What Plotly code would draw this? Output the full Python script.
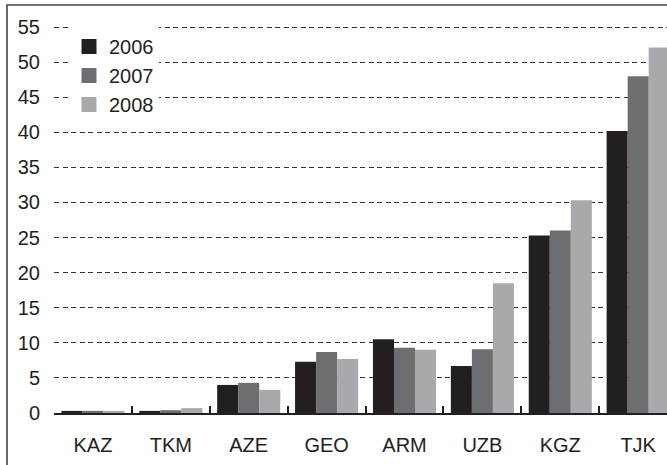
import plotly.graph_objects as go

categories = ["KAZ", "TKM", "AZE", "GEO", "ARM", "UZB", "KGZ", "TJK"]
v2006 = [0.3, 0.3, 4.0, 7.3, 10.5, 6.7, 25.3, 40.2]
v2007 = [0.3, 0.4, 4.3, 8.7, 9.3, 9.1, 26.0, 48.0]
v2008 = [0.3, 0.7, 3.3, 7.7, 9.0, 18.5, 30.3, 52.1]
years = ["2006", "2007", "2008"]
colors = ["#231f20", "#6d6e71", "#a7a9ac"]

W, H = 667, 465
L, T, B = 54, 13, 52
pw = W - L
ph = H - T - B

fig = go.Figure()
for name, vals, c in zip(years, [v2006, v2007, v2008], colors):
    fig.add_trace(go.Bar(x=categories, y=vals, name=name, legendgroup=name, showlegend=False,
                         marker=dict(color=c, line=dict(width=0))))
# legend entries with larger square swatches
for name, c in zip(years, colors):
    fig.add_trace(go.Scatter(x=[None], y=[None], mode="markers", name=name, legendgroup=name,
                             marker=dict(symbol="square", size=15, color=c, line=dict(width=0)),
                             hoverinfo="skip"))

fig.update_layout(
    width=W, height=H,
    margin=dict(l=L, r=0, t=T, b=B, pad=0),
    paper_bgcolor="white", plot_bgcolor="white",
    barmode="group", bargap=0.19, bargroupgap=0,
    font=dict(family="Liberation Sans, Arial, sans-serif", size=20, color="#231f20"),
    showlegend=True,
    legend=dict(
        x=(69 - L) / pw, y=(413 - 27) / ph, xanchor="left", yanchor="top",
        bgcolor="white", borderwidth=0, font=dict(size=20),
        tracegroupgap=0, itemwidth=30,
    ),
)
fig.update_xaxes(
    type="category", range=[-0.5, 7.37],
    showline=True, linecolor="#231f20", linewidth=1.5,
    ticks="inside", tickson="boundaries", ticklen=7, tickwidth=1.5, tickcolor="#231f20",
    showgrid=False, fixedrange=True, ticklabelstandoff=13,
)
fig.update_yaxes(
    range=[0, 57], tickvals=list(range(0, 60, 5)),
    showline=False, ticks="", zeroline=False,
    showgrid=True, gridcolor="#333333", gridwidth=1, griddash="5px,3.5px",
    ticklabelstandoff=13, fixedrange=True,
)
# outer frame (right and bottom sides cut off in the reference)
fig.add_shape(type="rect", xref="paper", yref="paper",
              x0=(7 - L) / pw, x1=1.2, y0=-0.3, y1=(413 - 5) / ph,
              line=dict(color="#444444", width=1.6), layer="above")

fig.write_html("out.html", config={"displayModeBar": False},
               post_script="document.body.style.margin='0';")
